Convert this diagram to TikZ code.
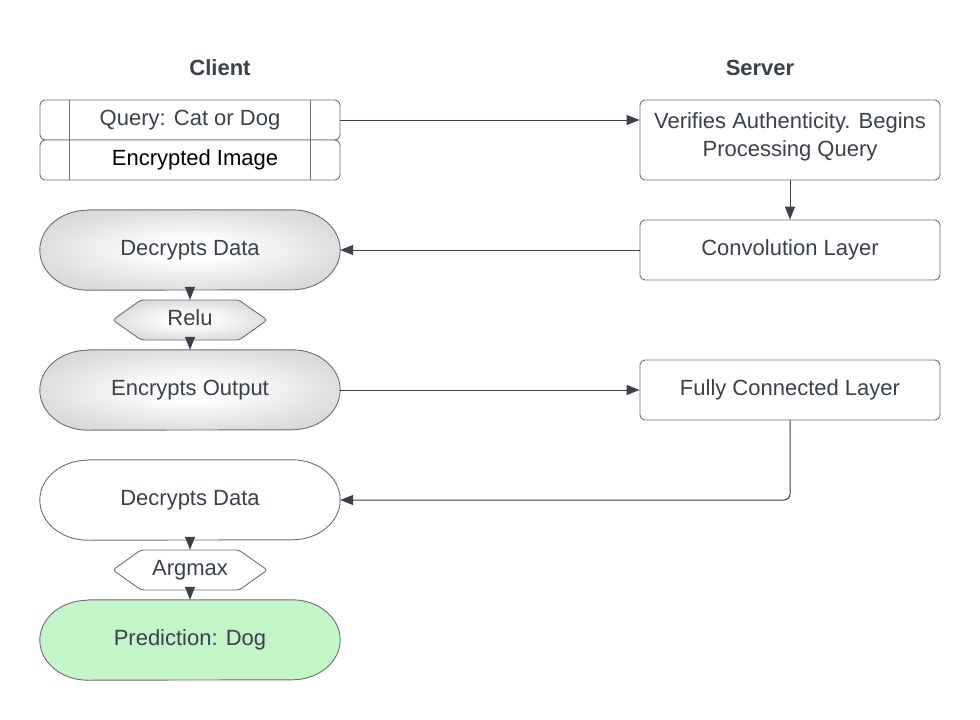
\documentclass[tikz,border=0pt]{standalone}
\usepackage{fontspec}
\setmainfont{Liberation Sans}
\usetikzlibrary{arrows.meta,backgrounds}
\definecolor{txt}{HTML}{3A414A}
\definecolor{edgec}{HTML}{6B6F76}
\definecolor{arrc}{HTML}{3A414A}
\definecolor{shadeout}{HTML}{D2D2D2}
\definecolor{shademid}{HTML}{DEDEDE}
\definecolor{predgreen}{HTML}{C3F5C9}
\pgfdeclareradialshading{softgray}{\pgfpoint{0bp}{0bp}}{color(0bp)=(white); color(6bp)=(white); color(25bp)=(shademid); color(35bp)=(shadeout); color(50bp)=(shadeout)}
\newcommand{\stadiumpath}[2]{%
  \path[#2] ([xshift=48pt]#1.north west) -- ([xshift=-48pt]#1.north east)
    arc[start angle=90, end angle=-90, x radius=48pt, y radius=40pt]
    -- ([xshift=48pt]#1.south west)
    arc[start angle=270, end angle=90, x radius=48pt, y radius=40pt] -- cycle;}
\newcommand{\hexpath}[2]{%
  \path[#2] (#1.west) -- ++(28,-20) -- ++(98,0) -- (#1.east) -- ++(-28,20) -- ++(-98,0) -- cycle;}
\begin{document}
\begin{tikzpicture}[x=1pt,y=-1pt,
  every node/.style={font=\fontsize{22pt}{28pt}\selectfont, text=txt, inner sep=0pt},
  one/.style={text height=14pt, text depth=2.5pt},
  hdr/.style={font=\bfseries\fontsize{22pt}{26pt}\selectfont, one},
  box/.style={draw=edgec, line width=0.9pt, rounded corners=5pt, minimum width=300pt, fill=white},
  term/.style={minimum width=300pt, minimum height=80pt, one},
  outline/.style={draw=edgec, line width=0.9pt},
  grayshade/.style={shading=softgray},
  hexnode/.style={minimum width=154pt, minimum height=40pt, one},
  hexline/.style={draw=edgec, line width=0.9pt, rounded corners=3pt},
  conn/.style={draw=arrc, line width=1pt, -{Triangle[length=13pt,width=10pt]}}]
\useasboundingbox (0,0) rectangle (980,720);

% headers
\node[hdr] (client) at (220,70) {Client};
\node[hdr] (server) at (760,70) {Server};

% client query boxes
\node[box, minimum height=40pt, one] (qry) at (190,120) {Query: Cat or Dog};
\node[box, minimum height=40pt, one, text=black] (enc) at (190,160) {\hspace{10pt}Encrypted Image};
\foreach \b in {qry,enc}{
  \draw[edgec, line width=0.9pt] ([xshift=30pt]\b.north west) -- ([xshift=30pt]\b.south west);
  \draw[edgec, line width=0.9pt] ([xshift=-30pt]\b.north east) -- ([xshift=-30pt]\b.south east);
}

% server boxes
\node[box, minimum height=80pt] (ver) at (790,140) {};
\node[align=center] (vertext) at (790,137) {Verifies Authenticity. Begins\\Processing Query};
\node[box, minimum height=60pt, one] (conv) at (790,250) {Convolution Layer};
\node[box, minimum height=60pt, one] (fc) at (790,390) {Fully Connected Layer};

% client flow
\node[term] (dec1) at (190,250) {Decrypts Data};
\node[hexnode] (relu) at (190,320) {Relu};
\node[term] (encout) at (190,390) {Encrypts Output};
\node[term] (dec2) at (190,500) {Decrypts Data};
\node[hexnode] (argm) at (190,570) {Argmax};
\node[term] (pred) at (190,640) {Prediction: Dog};

\begin{pgfonlayer}{background}
  \fill[white] (0,0) rectangle (980,720);
  \stadiumpath{dec1}{outline, grayshade}
  \stadiumpath{encout}{outline, grayshade}
  \stadiumpath{dec2}{outline, fill=white}
  \stadiumpath{pred}{outline, fill=predgreen}
  \hexpath{relu}{hexline, grayshade}
  \hexpath{argm}{hexline, fill=white}
\end{pgfonlayer}

% connectors
\draw[conn] (qry.east) -- (ver.west |- qry.east);
\draw[conn] (ver.south) -- (conv.north);
\draw[conn] (conv.west) -- (dec1.east);
\draw[conn] (dec1.south) -- (relu.north);
\draw[conn] (relu.south) -- (encout.north);
\draw[conn] (encout.east) -- (fc.west);
\draw[conn, rounded corners=6pt] (fc.south) |- (dec2.east);
\draw[conn] (dec2.south) -- (argm.north);
\draw[conn] (argm.south) -- (pred.north);
\end{tikzpicture}
\end{document}
